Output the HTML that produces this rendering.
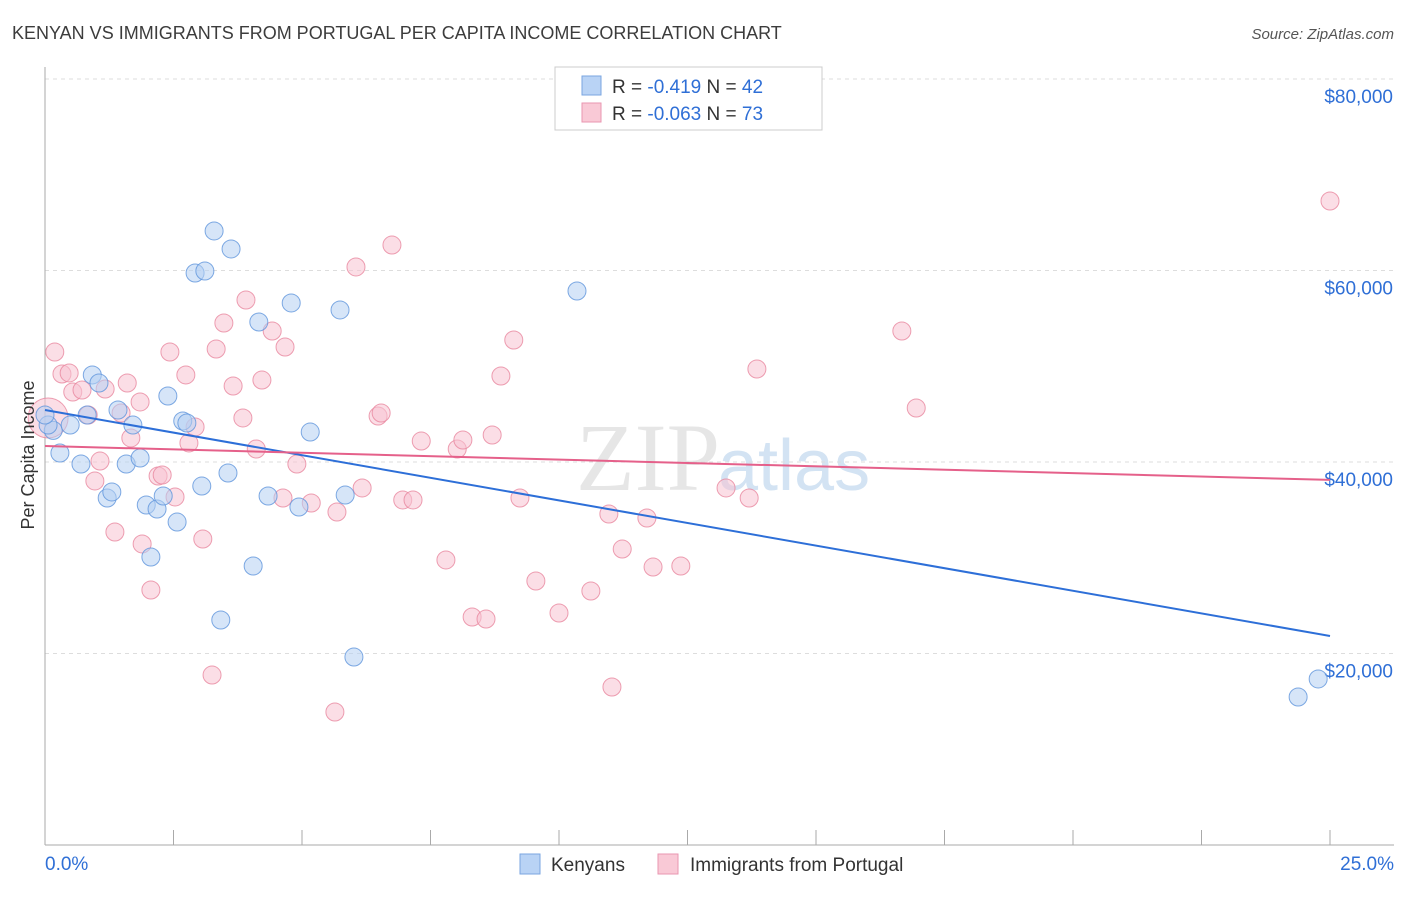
<!DOCTYPE html>
<html><head><meta charset="utf-8"><style>
body{margin:0;background:#fff;font-family:"Liberation Sans",sans-serif;}
</style></head><body>
<svg id="c" width="1406" height="892" xmlns="http://www.w3.org/2000/svg" style="font-family:'Liberation Sans',sans-serif">
<text x="12" y="39" font-size="18" fill="#3c3c3c">KENYAN VS IMMIGRANTS FROM PORTUGAL PER CAPITA INCOME CORRELATION CHART</text>
<text x="1394" y="39" font-size="15" fill="#555" text-anchor="end" font-style="italic">Source: ZipAtlas.com</text>
<text x="720" y="490" font-size="96" fill="#e6e6e6" text-anchor="end" font-family="Liberation Serif">ZIP</text>
<text x="718" y="490" font-size="72" fill="#d3e3f3">atlas</text>
<g id="grid"></g><g id="axes"></g><g id="pts"></g><g id="lines"></g>
<text transform="translate(34,455) rotate(-90)" font-size="18" fill="#333" text-anchor="middle">Per Capita Income</text>
<g>
<rect x="555" y="67" width="267" height="63" fill="#fff" stroke="#ccc"/>
<rect x="582" y="76" width="19" height="19" fill="#b9d3f5" stroke="#7aa6e0"/>
<rect x="582" y="103" width="19" height="19" fill="#f9c9d6" stroke="#e996b0"/>
<text x="612" y="93" font-size="19" fill="#333">R = <tspan fill="#2f6fd6"> -0.419</tspan>   N = <tspan fill="#2f6fd6">42</tspan></text>
<text x="612" y="120" font-size="19" fill="#333">R = <tspan fill="#2f6fd6">-0.063</tspan>   N = <tspan fill="#2f6fd6">73</tspan></text>
</g>
<g>
<rect x="520" y="854" width="20" height="20" fill="#b9d3f5" stroke="#7aa6e0"/>
<text x="551" y="871" font-size="19" fill="#333">Kenyans</text>
<rect x="658" y="854" width="20" height="20" fill="#f9c9d6" stroke="#e996b0"/>
<text x="690" y="871" font-size="19" fill="#333">Immigrants from Portugal</text>
</g>
</svg>
<script>
const yTicks=[20000,40000,60000,80000];
const yTickLabels=["$20,000","$40,000","$60,000","$80,000"];
const xEndLabels=["0.0%","25.0%"];
const blueX=[0.16,0.29,0.49,0.70,0.82,0.92,1.05,1.21,1.30,1.42,1.58,1.71,1.85,1.97,2.18,2.30,2.39,2.57,2.06,2.68,2.76,2.92,3.05,3.11,3.29,3.42,3.56,3.62,4.05,4.16,4.34,4.79,4.94,5.16,5.74,5.84,6.01,10.35,24.38,24.77,0.06,0.0];
const blueY=[43300,40940,43860,39790,44910,49090,48250,36240,36870,45430,39790,43860,40420,35510,35090,36450,46890,33730,30080,44280,44070,59740,37490,59950,64130,23500,38850,62250,29140,54620,36450,56610,35300,43130,55880,36550,19630,57860,15460,17340,43860,44910];
const pinkX=[0.19,0.33,0.47,0.54,0.72,0.84,0.97,1.07,1.17,1.36,1.48,1.60,1.67,1.85,1.89,2.06,2.20,2.28,2.43,2.53,2.74,2.80,2.92,3.07,3.25,3.33,3.48,3.66,3.85,3.91,4.11,4.22,4.42,4.63,4.67,4.90,5.18,5.64,5.68,6.05,6.17,6.48,6.54,6.75,6.96,7.16,7.32,7.80,8.02,8.13,8.31,8.58,8.70,8.87,9.12,9.24,9.55,10.0,10.62,10.97,11.03,11.23,11.71,11.83,12.37,13.25,13.70,13.85,16.67,16.95,25.0,0.06];
const pinkY=[51490,49190,49300,47310,47520,44910,38020,40100,47620,32690,45120,48250,42510,46270,31440,26630,38540,38640,51490,36350,49090,41990,43660,31960,17750,51800,54520,47940,44600,56920,41360,48560,53680,36240,52010,39790,35720,13890,34780,60370,37290,44800,45120,62660,36030,36030,42190,29770,41360,42300,23810,23600,42820,48980,52740,36240,27570,24230,26530,34570,16500,30910,34150,29030,29140,37290,36240,49710,53680,45640,67260,44600];
const blueTrend=[45430,21830];
const pinkTrend=[41670,38130];
const trendX=[0,25];
const NS="http://www.w3.org/2000/svg";
const X=v=>45+v*51.4;
const Y=v=>845-v*0.009575;
function mk(tag,attrs,parent){const e=document.createElementNS(NS,tag);for(const k in attrs)e.setAttribute(k,attrs[k]);parent.appendChild(e);return e;}
const grid=document.getElementById('grid'),axes=document.getElementById('axes'),pts=document.getElementById('pts'),lines=document.getElementById('lines');
yTicks.forEach((t,i)=>{
 const l=mk('line',{x1:45,x2:1394,y1:Y(t),y2:Y(t),stroke:'#ddd','stroke-dasharray':'4,4'},grid);
 
 
 const tx=mk('text',{x:1393,y:Y(t)+24,'font-size':19,fill:'#2f6fd6','text-anchor':'end'},axes);
 tx.textContent=yTickLabels[i];
 
 
});
const ax=mk('line',{x1:45,x2:45,y1:67,y2:845,stroke:'#aaa'},axes);


const bx=mk('line',{x1:45,x2:1394,y1:845,y2:845,stroke:'#aaa'},axes);


for(let i=0;i<=10;i++){const t=mk('line',{x1:X(i*2.5),x2:X(i*2.5),y1:830,y2:845,stroke:'#aaa'},axes);
 
 }
[[45,'start'],[1394,'end']].forEach((p,i)=>{const t=mk('text',{x:p[0],y:870,'font-size':19,fill:'#2f6fd6','text-anchor':p[1]},axes);t.textContent=xEndLabels[i];
 
 });
function dots(xs,ys,fill,stroke,name){xs.forEach((x,i)=>{const r=(x===0.06&&name==='pink-point')?20:9;
 const c=mk('circle',{cx:X(x),cy:Y(ys[i]),r:r,fill:fill,'fill-opacity':0.55,stroke:stroke,'stroke-opacity':0.8},pts);
 
 });}
dots(pinkX,pinkY,'#f7c3d2','#e8879f','pink-point');
dots(blueX,blueY,'#b5d0f3','#5f95dc','blue-point');
const bl=mk('line',{x1:X(trendX[0]),y1:Y(blueTrend[0]),x2:X(trendX[1]),y2:Y(blueTrend[1]),stroke:'#2d6fd8','stroke-width':2},lines);


const pl=mk('line',{x1:X(trendX[0]),y1:Y(pinkTrend[0]),x2:X(trendX[1]),y2:Y(pinkTrend[1]),stroke:'#e5608a','stroke-width':2},lines);


</script>
</body></html>
